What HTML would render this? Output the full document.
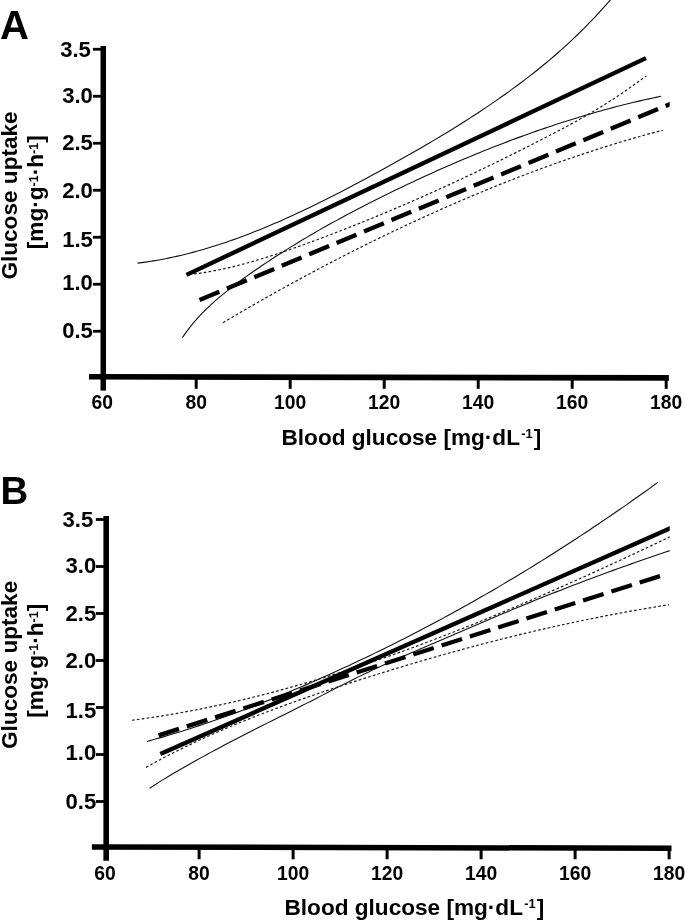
<!DOCTYPE html>
<html><head><meta charset="utf-8"><style>
html,body{margin:0;padding:0;background:#fff;}
svg{display:block;filter:grayscale(100%) blur(0.45px);}
text{font-family:"Liberation Sans", sans-serif;fill:#000;}
</style></head><body>
<svg width="685" height="920" viewBox="0 0 685 920">
<rect width="685" height="920" fill="#fff"/>
<text x="0" y="38.8" font-size="40" font-weight="bold">A</text>
<rect x="100.50" y="46.00" width="5.50" height="344.60"/>
<line x1="89" y1="376.75" x2="668.9" y2="377.85" stroke="#000" stroke-width="5.7"/>
<rect x="92.90" y="329.85" width="10.35" height="2.8"/>
<text transform="translate(92.90,338.25) scale(0.97,1)" font-size="22.8" font-weight="bold" text-anchor="end">0.5</text>
<rect x="92.90" y="282.85" width="10.35" height="2.8"/>
<text transform="translate(92.90,290.15) scale(0.97,1)" font-size="22.8" font-weight="bold" text-anchor="end">1.0</text>
<rect x="92.90" y="235.85" width="10.35" height="2.8"/>
<text transform="translate(92.90,247.25) scale(0.97,1)" font-size="22.8" font-weight="bold" text-anchor="end">1.5</text>
<rect x="92.90" y="188.85" width="10.35" height="2.8"/>
<text transform="translate(92.90,197.85) scale(0.97,1)" font-size="22.8" font-weight="bold" text-anchor="end">2.0</text>
<rect x="92.90" y="141.85" width="10.35" height="2.8"/>
<text transform="translate(92.90,150.25) scale(0.97,1)" font-size="22.8" font-weight="bold" text-anchor="end">2.5</text>
<rect x="92.90" y="94.85" width="10.35" height="2.8"/>
<text transform="translate(92.90,103.15) scale(0.97,1)" font-size="22.8" font-weight="bold" text-anchor="end">3.0</text>
<rect x="92.90" y="47.85" width="10.35" height="2.8"/>
<text transform="translate(90.90,57.00) scale(0.97,1)" font-size="22.8" font-weight="bold" text-anchor="end">3.5</text>
<rect x="194.70" y="376.95" width="3" height="11.85"/>
<rect x="288.70" y="377.13" width="3" height="11.67"/>
<rect x="382.70" y="377.31" width="3" height="11.49"/>
<rect x="476.70" y="377.49" width="3" height="11.31"/>
<rect x="570.70" y="377.67" width="3" height="11.13"/>
<rect x="664.70" y="377.84" width="3" height="10.96"/>
<text x="102.20" y="409.45" font-size="19.3" font-weight="bold" text-anchor="middle">60</text>
<text x="196.20" y="409.45" font-size="19.3" font-weight="bold" text-anchor="middle">80</text>
<text x="290.20" y="409.45" font-size="19.3" font-weight="bold" text-anchor="middle">100</text>
<text x="384.20" y="409.45" font-size="19.3" font-weight="bold" text-anchor="middle">120</text>
<text x="478.20" y="409.45" font-size="19.3" font-weight="bold" text-anchor="middle">140</text>
<text x="572.20" y="409.45" font-size="19.3" font-weight="bold" text-anchor="middle">160</text>
<text x="666.20" y="409.45" font-size="19.3" font-weight="bold" text-anchor="middle">180</text>
<text transform="translate(16.8,279.6) rotate(-90)" font-size="22.6" font-weight="bold">Glucose uptake</text>
<text transform="translate(43.2,249.2) rotate(-90)" font-size="22.6" font-weight="bold">[mg·g<tspan font-size="12.5" dy="-5.5">-1</tspan><tspan dy="5.5">·h</tspan><tspan font-size="12.5" dy="-5.5">-1</tspan><tspan dy="5.5">]</tspan></text>
<text x="281.5" y="444.6" font-size="22.6" font-weight="bold">Blood glucose [mg·dL<tspan font-size="12.8" dx="1.2" dy="-6.7">-1</tspan><tspan dx="1.2" dy="6.7">]</tspan></text>
<text x="0.4" y="503.95" font-size="38.4" font-weight="bold">B</text>
<rect x="103.40" y="516.00" width="5.60" height="344.75"/>
<line x1="91.9" y1="846.9" x2="671.5" y2="848.25" stroke="#000" stroke-width="5.5"/>
<rect x="95.90" y="800.10" width="10.30" height="2.8"/>
<text transform="translate(96.20,808.50) scale(0.97,1)" font-size="22.8" font-weight="bold" text-anchor="end">0.5</text>
<rect x="95.90" y="753.10" width="10.30" height="2.8"/>
<text transform="translate(96.20,760.40) scale(0.97,1)" font-size="22.8" font-weight="bold" text-anchor="end">1.0</text>
<rect x="95.90" y="706.10" width="10.30" height="2.8"/>
<text transform="translate(96.20,717.50) scale(0.97,1)" font-size="22.8" font-weight="bold" text-anchor="end">1.5</text>
<rect x="95.90" y="659.10" width="10.30" height="2.8"/>
<text transform="translate(96.20,668.10) scale(0.97,1)" font-size="22.8" font-weight="bold" text-anchor="end">2.0</text>
<rect x="95.90" y="612.10" width="10.30" height="2.8"/>
<text transform="translate(96.20,620.50) scale(0.97,1)" font-size="22.8" font-weight="bold" text-anchor="end">2.5</text>
<rect x="95.90" y="565.10" width="10.30" height="2.8"/>
<text transform="translate(96.20,573.40) scale(0.97,1)" font-size="22.8" font-weight="bold" text-anchor="end">3.0</text>
<rect x="95.90" y="518.10" width="10.30" height="2.8"/>
<text transform="translate(93.20,527.25) scale(0.97,1)" font-size="22.8" font-weight="bold" text-anchor="end">3.5</text>
<rect x="197.60" y="847.15" width="3" height="12.10"/>
<rect x="291.60" y="847.37" width="3" height="11.88"/>
<rect x="385.60" y="847.59" width="3" height="11.66"/>
<rect x="479.60" y="847.81" width="3" height="11.44"/>
<rect x="573.60" y="848.03" width="3" height="11.22"/>
<rect x="667.60" y="848.24" width="3" height="11.01"/>
<text x="105.10" y="879.50" font-size="19.3" font-weight="bold" text-anchor="middle">60</text>
<text x="199.10" y="879.50" font-size="19.3" font-weight="bold" text-anchor="middle">80</text>
<text x="293.10" y="879.50" font-size="19.3" font-weight="bold" text-anchor="middle">100</text>
<text x="387.10" y="879.50" font-size="19.3" font-weight="bold" text-anchor="middle">120</text>
<text x="481.10" y="879.50" font-size="19.3" font-weight="bold" text-anchor="middle">140</text>
<text x="575.10" y="879.50" font-size="19.3" font-weight="bold" text-anchor="middle">160</text>
<text x="669.10" y="879.50" font-size="19.3" font-weight="bold" text-anchor="middle">180</text>
<text transform="translate(16.8,749.0) rotate(-90)" font-size="22.6" font-weight="bold">Glucose uptake</text>
<text transform="translate(43.2,717.7) rotate(-90)" font-size="22.6" font-weight="bold">[mg·g<tspan font-size="12.5" dy="-5.5">-1</tspan><tspan dy="5.5">·h</tspan><tspan font-size="12.5" dy="-5.5">-1</tspan><tspan dy="5.5">]</tspan></text>
<text x="284.5" y="914.6" font-size="22.6" font-weight="bold">Blood glucose [mg·dL<tspan font-size="12.8" dx="1.2" dy="-6.7">-1</tspan><tspan dx="1.2" dy="6.7">]</tspan></text>
<defs><clipPath id="pc"><rect x="0" y="0" width="669.7" height="920"/></clipPath></defs>
<g clip-path="url(#pc)">
<path d="M137.50,263.15 L141.50,262.65 L145.51,262.10 L149.51,261.51 L153.52,260.87 L157.52,260.18 L161.53,259.46 L165.53,258.69 L169.53,257.88 L173.54,257.02 L177.54,256.13 L181.55,255.19 L185.55,254.22 L189.55,253.20 L193.56,252.15 L197.56,251.06 L201.57,249.93 L205.57,248.76 L209.58,247.56 L213.58,246.32 L217.58,245.05 L221.59,243.74 L225.59,242.40 L229.60,241.02 L233.60,239.62 L237.61,238.18 L241.61,236.70 L245.61,235.20 L249.62,233.67 L253.62,232.10 L257.63,230.51 L261.63,228.89 L265.63,227.24 L269.64,225.57 L273.64,223.86 L277.65,222.13 L281.65,220.38 L285.66,218.60 L289.66,216.80 L293.66,214.97 L297.67,213.12 L301.67,211.24 L305.68,209.35 L309.68,207.43 L313.68,205.49 L317.69,203.54 L321.69,201.56 L325.70,199.56 L329.70,197.55 L333.71,195.52 L337.71,193.47 L341.71,191.40 L345.72,189.32 L349.72,187.22 L353.73,185.11 L357.73,182.98 L361.74,180.84 L365.74,178.69 L369.74,176.53 L373.75,174.35 L377.75,172.16 L381.76,169.96 L385.76,167.76 L389.76,165.54 L393.77,163.31 L397.77,161.07 L401.78,158.83 L405.78,156.57 L409.79,154.30 L413.79,152.02 L417.79,149.72 L421.80,147.40 L425.80,145.08 L429.81,142.73 L433.81,140.37 L437.82,137.98 L441.82,135.58 L445.82,133.16 L449.83,130.71 L453.83,128.25 L457.84,125.76 L461.84,123.24 L465.84,120.70 L469.85,118.14 L473.85,115.54 L477.86,112.92 L481.86,110.27 L485.87,107.59 L489.87,104.88 L493.87,102.14 L497.88,99.36 L501.88,96.56 L505.89,93.71 L509.89,90.83 L513.89,87.92 L517.90,84.97 L521.90,81.97 L525.91,78.93 L529.91,75.85 L533.92,72.71 L537.92,69.53 L541.92,66.29 L545.93,62.99 L549.93,59.63 L553.94,56.21 L557.94,52.73 L561.95,49.18 L565.95,45.55 L569.95,41.86 L573.96,38.09 L577.96,34.24 L581.97,30.32 L585.97,26.31 L589.97,22.21 L593.98,18.03 L597.98,13.75 L601.99,9.39 L605.99,4.92 L610.00,0.36 L614.00,-4.30" fill="none" stroke="#111" stroke-width="1.1"/>
<path d="M182.40,337.61 L186.42,331.92 L190.44,326.63 L194.47,321.72 L198.49,317.14 L202.51,312.86 L206.53,308.83 L210.55,305.03 L214.57,301.41 L218.60,297.94 L222.62,294.58 L226.64,291.31 L230.66,288.13 L234.68,285.04 L238.71,282.01 L242.73,279.05 L246.75,276.15 L250.77,273.31 L254.79,270.51 L258.82,267.76 L262.84,265.04 L266.86,262.35 L270.88,259.70 L274.90,257.08 L278.92,254.48 L282.95,251.92 L286.97,249.39 L290.99,246.89 L295.01,244.41 L299.03,241.97 L303.06,239.55 L307.08,237.15 L311.10,234.79 L315.12,232.45 L319.14,230.13 L323.16,227.84 L327.19,225.57 L331.21,223.33 L335.23,221.11 L339.25,218.91 L343.27,216.73 L347.30,214.57 L351.32,212.43 L355.34,210.31 L359.36,208.22 L363.38,206.14 L367.41,204.07 L371.43,202.03 L375.45,200.00 L379.47,197.99 L383.49,195.99 L387.51,194.01 L391.54,192.04 L395.56,190.08 L399.58,188.14 L403.60,186.22 L407.62,184.30 L411.65,182.41 L415.67,180.52 L419.69,178.65 L423.71,176.80 L427.73,174.96 L431.75,173.14 L435.78,171.32 L439.80,169.53 L443.82,167.75 L447.84,165.98 L451.86,164.23 L455.89,162.50 L459.91,160.78 L463.93,159.07 L467.95,157.39 L471.97,155.71 L475.99,154.05 L480.02,152.41 L484.04,150.79 L488.06,149.18 L492.08,147.58 L496.10,146.00 L500.13,144.44 L504.15,142.90 L508.17,141.37 L512.19,139.86 L516.21,138.36 L520.24,136.88 L524.26,135.42 L528.28,133.97 L532.30,132.54 L536.32,131.13 L540.34,129.73 L544.37,128.36 L548.39,127.00 L552.41,125.65 L556.43,124.33 L560.45,123.02 L564.48,121.73 L568.50,120.45 L572.52,119.20 L576.54,117.96 L580.56,116.74 L584.58,115.54 L588.61,114.36 L592.63,113.19 L596.65,112.04 L600.67,110.92 L604.69,109.81 L608.72,108.71 L612.74,107.64 L616.76,106.59 L620.78,105.55 L624.80,104.53 L628.83,103.54 L632.85,102.56 L636.87,101.60 L640.89,100.66 L644.91,99.74 L648.93,98.84 L652.96,97.95 L656.98,97.09 L661.00,96.25" fill="none" stroke="#111" stroke-width="1.1"/>
<path d="M194.00,273.96 L197.80,273.46 L201.61,272.91 L205.41,272.32 L209.21,271.67 L213.01,270.98 L216.82,270.25 L220.62,269.48 L224.42,268.67 L228.22,267.81 L232.03,266.92 L235.83,265.99 L239.63,265.03 L243.43,264.03 L247.24,263.00 L251.04,261.93 L254.84,260.84 L258.64,259.72 L262.45,258.57 L266.25,257.39 L270.05,256.19 L273.85,254.96 L277.66,253.71 L281.46,252.44 L285.26,251.15 L289.06,249.84 L292.87,248.51 L296.67,247.17 L300.47,245.81 L304.27,244.44 L308.08,243.05 L311.88,241.66 L315.68,240.25 L319.48,238.84 L323.29,237.41 L327.09,235.97 L330.89,234.53 L334.69,233.07 L338.50,231.60 L342.30,230.13 L346.10,228.64 L349.90,227.14 L353.71,225.64 L357.51,224.12 L361.31,222.59 L365.11,221.06 L368.92,219.51 L372.72,217.95 L376.52,216.39 L380.32,214.81 L384.13,213.23 L387.93,211.63 L391.73,210.03 L395.53,208.42 L399.34,206.79 L403.14,205.16 L406.94,203.52 L410.74,201.87 L414.55,200.21 L418.35,198.54 L422.15,196.86 L425.95,195.17 L429.76,193.47 L433.56,191.76 L437.36,190.05 L441.16,188.32 L444.97,186.59 L448.77,184.84 L452.57,183.09 L456.37,181.33 L460.18,179.56 L463.98,177.78 L467.78,175.99 L471.58,174.20 L475.39,172.39 L479.19,170.58 L482.99,168.75 L486.79,166.92 L490.60,165.08 L494.40,163.23 L498.20,161.37 L502.00,159.51 L505.81,157.63 L509.61,155.75 L513.41,153.85 L517.21,151.95 L521.02,150.04 L524.82,148.13 L528.62,146.20 L532.42,144.27 L536.23,142.32 L540.03,140.37 L543.83,138.41 L547.63,136.44 L551.44,134.47 L555.24,132.48 L559.04,130.49 L562.84,128.47 L566.65,126.44 L570.45,124.39 L574.25,122.32 L578.05,120.22 L581.86,118.09 L585.66,115.92 L589.46,113.73 L593.26,111.49 L597.07,109.22 L600.87,106.90 L604.67,104.53 L608.47,102.12 L612.28,99.65 L616.08,97.13 L619.88,94.57 L623.68,91.98 L627.49,89.34 L631.29,86.68 L635.09,84.00 L638.89,81.30 L642.70,78.59 L646.50,75.88" fill="none" stroke="#1a1a1a" stroke-width="1.2" stroke-dasharray="2.7 2.2"/>
<path d="M223.00,322.69 L226.69,320.49 L230.39,318.31 L234.08,316.14 L237.78,313.97 L241.47,311.82 L245.17,309.67 L248.86,307.54 L252.56,305.41 L256.25,303.29 L259.95,301.18 L263.64,299.08 L267.34,296.99 L271.03,294.91 L274.73,292.84 L278.42,290.78 L282.12,288.73 L285.81,286.68 L289.51,284.65 L293.20,282.62 L296.90,280.61 L300.59,278.60 L304.29,276.60 L307.98,274.62 L311.68,272.64 L315.37,270.67 L319.07,268.71 L322.76,266.76 L326.46,264.82 L330.15,262.89 L333.85,260.97 L337.54,259.05 L341.24,257.15 L344.93,255.26 L348.63,253.37 L352.32,251.50 L356.02,249.63 L359.71,247.78 L363.41,245.93 L367.10,244.10 L370.80,242.27 L374.49,240.45 L378.19,238.64 L381.88,236.84 L385.58,235.06 L389.27,233.28 L392.97,231.51 L396.66,229.75 L400.36,228.00 L404.05,226.26 L407.75,224.52 L411.44,222.80 L415.14,221.09 L418.83,219.39 L422.53,217.70 L426.22,216.01 L429.92,214.34 L433.61,212.68 L437.31,211.02 L441.00,209.38 L444.70,207.74 L448.39,206.12 L452.09,204.51 L455.78,202.90 L459.48,201.30 L463.17,199.72 L466.87,198.14 L470.56,196.58 L474.26,195.02 L477.95,193.48 L481.65,191.94 L485.34,190.42 L489.04,188.90 L492.73,187.40 L496.43,185.90 L500.12,184.42 L503.82,182.95 L507.51,181.48 L511.21,180.03 L514.90,178.59 L518.60,177.16 L522.29,175.74 L525.99,174.33 L529.68,172.93 L533.38,171.54 L537.07,170.16 L540.77,168.80 L544.46,167.44 L548.16,166.10 L551.85,164.77 L555.55,163.45 L559.24,162.13 L562.94,160.84 L566.63,159.55 L570.33,158.27 L574.02,157.01 L577.72,155.75 L581.41,154.51 L585.11,153.28 L588.80,152.06 L592.50,150.86 L596.19,149.66 L599.89,148.48 L603.58,147.31 L607.28,146.15 L610.97,145.00 L614.67,143.87 L618.36,142.74 L622.06,141.63 L625.75,140.53 L629.45,139.45 L633.14,138.37 L636.84,137.31 L640.53,136.26 L644.23,135.22 L647.92,134.20 L651.62,133.19 L655.31,132.19 L659.01,131.20 L662.70,130.23" fill="none" stroke="#1a1a1a" stroke-width="1.2" stroke-dasharray="2.7 2.2"/>
<path d="M146.90,741.48 L151.19,740.30 L155.49,739.09 L159.78,737.86 L164.07,736.61 L168.37,735.34 L172.66,734.05 L176.95,732.74 L181.25,731.41 L185.54,730.06 L189.83,728.69 L194.13,727.30 L198.42,725.89 L202.71,724.47 L207.01,723.02 L211.30,721.56 L215.59,720.07 L219.89,718.57 L224.18,717.05 L228.47,715.51 L232.77,713.96 L237.06,712.38 L241.35,710.79 L245.65,709.18 L249.94,707.55 L254.23,705.91 L258.53,704.25 L262.82,702.57 L267.11,700.87 L271.41,699.16 L275.70,697.43 L279.99,695.69 L284.28,693.93 L288.58,692.15 L292.87,690.35 L297.16,688.54 L301.46,686.72 L305.75,684.87 L310.04,683.02 L314.34,681.15 L318.63,679.26 L322.92,677.35 L327.22,675.44 L331.51,673.50 L335.80,671.56 L340.10,669.60 L344.39,667.62 L348.68,665.63 L352.98,663.62 L357.27,661.60 L361.56,659.57 L365.86,657.52 L370.15,655.46 L374.44,653.38 L378.74,651.29 L383.03,649.18 L387.32,647.06 L391.62,644.92 L395.91,642.77 L400.20,640.61 L404.50,638.43 L408.79,636.23 L413.08,634.02 L417.38,631.79 L421.67,629.55 L425.96,627.30 L430.26,625.03 L434.55,622.74 L438.84,620.44 L443.14,618.13 L447.43,615.80 L451.72,613.45 L456.02,611.09 L460.31,608.71 L464.60,606.32 L468.90,603.92 L473.19,601.49 L477.48,599.06 L481.78,596.60 L486.07,594.14 L490.36,591.65 L494.66,589.15 L498.95,586.64 L503.24,584.11 L507.54,581.56 L511.83,579.00 L516.12,576.42 L520.42,573.83 L524.71,571.22 L529.00,568.60 L533.29,565.96 L537.59,563.30 L541.88,560.63 L546.17,557.95 L550.47,555.24 L554.76,552.52 L559.05,549.79 L563.35,547.04 L567.64,544.27 L571.93,541.49 L576.23,538.69 L580.52,535.87 L584.81,533.04 L589.11,530.19 L593.40,527.33 L597.69,524.45 L601.99,521.55 L606.28,518.64 L610.57,515.71 L614.87,512.77 L619.16,509.80 L623.45,506.83 L627.75,503.83 L632.04,500.82 L636.33,497.79 L640.63,494.75 L644.92,491.69 L649.21,488.61 L653.51,485.52 L657.80,482.41" fill="none" stroke="#111" stroke-width="1.1"/>
<path d="M149.60,788.35 L153.97,785.44 L158.35,782.61 L162.72,779.86 L167.09,777.17 L171.47,774.54 L175.84,771.96 L180.21,769.43 L184.58,766.93 L188.96,764.45 L193.33,762.00 L197.70,759.56 L202.08,757.14 L206.45,754.74 L210.82,752.36 L215.20,749.99 L219.57,747.65 L223.94,745.32 L228.32,743.00 L232.69,740.71 L237.06,738.43 L241.44,736.16 L245.81,733.92 L250.18,731.68 L254.55,729.46 L258.93,727.25 L263.30,725.06 L267.67,722.87 L272.05,720.68 L276.42,718.50 L280.79,716.32 L285.17,714.14 L289.54,711.95 L293.91,709.76 L298.29,707.56 L302.66,705.35 L307.03,703.12 L311.41,700.89 L315.78,698.64 L320.15,696.38 L324.52,694.12 L328.90,691.86 L333.27,689.61 L337.64,687.36 L342.02,685.12 L346.39,682.90 L350.76,680.70 L355.14,678.53 L359.51,676.38 L363.88,674.27 L368.26,672.18 L372.63,670.12 L377.00,668.09 L381.37,666.09 L385.75,664.10 L390.12,662.14 L394.49,660.20 L398.87,658.27 L403.24,656.36 L407.61,654.46 L411.99,652.57 L416.36,650.68 L420.73,648.81 L425.11,646.94 L429.48,645.07 L433.85,643.20 L438.23,641.33 L442.60,639.46 L446.97,637.58 L451.34,635.70 L455.72,633.82 L460.09,631.93 L464.46,630.05 L468.84,628.16 L473.21,626.28 L477.58,624.40 L481.96,622.53 L486.33,620.66 L490.70,618.79 L495.08,616.93 L499.45,615.08 L503.82,613.23 L508.19,611.40 L512.57,609.57 L516.94,607.75 L521.31,605.95 L525.69,604.15 L530.06,602.37 L534.43,600.60 L538.81,598.83 L543.18,597.08 L547.55,595.33 L551.93,593.60 L556.30,591.88 L560.67,590.16 L565.05,588.46 L569.42,586.77 L573.79,585.08 L578.16,583.41 L582.54,581.75 L586.91,580.09 L591.28,578.45 L595.66,576.82 L600.03,575.20 L604.40,573.58 L608.78,571.98 L613.15,570.39 L617.52,568.80 L621.90,567.23 L626.27,565.67 L630.64,564.11 L635.02,562.57 L639.39,561.03 L643.76,559.51 L648.13,558.00 L652.51,556.49 L656.88,555.00 L661.25,553.51 L665.63,552.04 L670.00,550.57" fill="none" stroke="#111" stroke-width="1.1"/>
<path d="M132.00,720.22 L136.52,719.63 L141.04,719.02 L145.56,718.38 L150.08,717.72 L154.61,717.05 L159.13,716.35 L163.65,715.63 L168.17,714.88 L172.69,714.12 L177.21,713.34 L181.73,712.53 L186.25,711.71 L190.77,710.87 L195.29,710.00 L199.82,709.12 L204.34,708.21 L208.86,707.29 L213.38,706.34 L217.90,705.38 L222.42,704.40 L226.94,703.39 L231.46,702.37 L235.98,701.33 L240.50,700.28 L245.03,699.20 L249.55,698.11 L254.07,696.99 L258.59,695.86 L263.11,694.71 L267.63,693.54 L272.15,692.36 L276.67,691.16 L281.19,689.94 L285.71,688.70 L290.24,687.45 L294.76,686.18 L299.28,684.89 L303.80,683.59 L308.32,682.27 L312.84,680.93 L317.36,679.58 L321.88,678.21 L326.40,676.83 L330.92,675.43 L335.45,674.01 L339.97,672.58 L344.49,671.14 L349.01,669.68 L353.53,668.20 L358.05,666.71 L362.57,665.21 L367.09,663.69 L371.61,662.15 L376.13,660.61 L380.66,659.05 L385.18,657.47 L389.70,655.88 L394.22,654.28 L398.74,652.66 L403.26,651.03 L407.78,649.39 L412.30,647.73 L416.82,646.07 L421.34,644.38 L425.87,642.69 L430.39,640.99 L434.91,639.27 L439.43,637.54 L443.95,635.80 L448.47,634.04 L452.99,632.28 L457.51,630.50 L462.03,628.71 L466.55,626.91 L471.08,625.10 L475.60,623.28 L480.12,621.45 L484.64,619.61 L489.16,617.76 L493.68,615.89 L498.20,614.02 L502.72,612.14 L507.24,610.24 L511.76,608.34 L516.29,606.43 L520.81,604.51 L525.33,602.58 L529.85,600.64 L534.37,598.69 L538.89,596.74 L543.41,594.77 L547.93,592.80 L552.45,590.81 L556.97,588.82 L561.50,586.83 L566.02,584.82 L570.54,582.80 L575.06,580.78 L579.58,578.75 L584.10,576.72 L588.62,574.68 L593.14,572.63 L597.66,570.57 L602.18,568.51 L606.71,566.44 L611.23,564.36 L615.75,562.28 L620.27,560.19 L624.79,558.09 L629.31,555.99 L633.83,553.89 L638.35,551.78 L642.87,549.66 L647.39,547.54 L651.92,545.41 L656.44,543.28 L660.96,541.14 L665.48,539.00 L670.00,536.86" fill="none" stroke="#1a1a1a" stroke-width="1.2" stroke-dasharray="2.7 2.2"/>
<path d="M146.00,767.37 L150.40,764.93 L154.79,762.53 L159.19,760.16 L163.58,757.84 L167.98,755.55 L172.37,753.29 L176.77,751.07 L181.17,748.89 L185.56,746.74 L189.96,744.62 L194.35,742.53 L198.75,740.48 L203.15,738.45 L207.54,736.46 L211.94,734.49 L216.33,732.55 L220.73,730.64 L225.12,728.75 L229.52,726.89 L233.92,725.05 L238.31,723.24 L242.71,721.45 L247.10,719.68 L251.50,717.93 L255.89,716.20 L260.29,714.49 L264.69,712.80 L269.08,711.13 L273.48,709.48 L277.87,707.84 L282.27,706.22 L286.67,704.62 L291.06,703.03 L295.46,701.45 L299.85,699.89 L304.25,698.34 L308.64,696.81 L313.04,695.29 L317.44,693.78 L321.83,692.29 L326.23,690.81 L330.62,689.34 L335.02,687.88 L339.42,686.43 L343.81,684.99 L348.21,683.56 L352.60,682.14 L357.00,680.72 L361.39,679.32 L365.79,677.93 L370.19,676.54 L374.58,675.16 L378.98,673.79 L383.37,672.42 L387.77,671.07 L392.16,669.72 L396.56,668.39 L400.96,667.06 L405.35,665.74 L409.75,664.43 L414.14,663.12 L418.54,661.83 L422.94,660.54 L427.33,659.27 L431.73,658.00 L436.12,656.74 L440.52,655.49 L444.91,654.25 L449.31,653.02 L453.71,651.80 L458.10,650.59 L462.50,649.39 L466.89,648.20 L471.29,647.01 L475.68,645.84 L480.08,644.68 L484.48,643.52 L488.87,642.38 L493.27,641.25 L497.66,640.12 L502.06,639.01 L506.46,637.90 L510.85,636.81 L515.25,635.73 L519.64,634.65 L524.04,633.59 L528.43,632.54 L532.83,631.50 L537.23,630.47 L541.62,629.44 L546.02,628.44 L550.41,627.44 L554.81,626.45 L559.21,625.47 L563.60,624.50 L568.00,623.55 L572.39,622.60 L576.79,621.67 L581.18,620.75 L585.58,619.84 L589.98,618.94 L594.37,618.05 L598.77,617.18 L603.16,616.31 L607.56,615.46 L611.95,614.62 L616.35,613.79 L620.75,612.97 L625.14,612.16 L629.54,611.37 L633.93,610.59 L638.33,609.82 L642.73,609.06 L647.12,608.31 L651.52,607.58 L655.91,606.86 L660.31,606.15 L664.70,605.45 L669.10,604.77" fill="none" stroke="#1a1a1a" stroke-width="1.2" stroke-dasharray="2.7 2.2"/>
<line x1="186.5" y1="274.85" x2="645.95" y2="58.1" stroke="#000" stroke-width="4.3"/>
<line x1="199.5" y1="300" x2="672" y2="103.25" stroke="#000" stroke-width="4.3" stroke-dasharray="21.5 8.2"/>
<line x1="160.4" y1="754" x2="673" y2="527.1" stroke="#000" stroke-width="4.3"/>
<line x1="158.5" y1="735.4" x2="660" y2="576.1" stroke="#000" stroke-width="4.3" stroke-dasharray="21.5 8.2"/>
</g>
</svg>
</body></html>
